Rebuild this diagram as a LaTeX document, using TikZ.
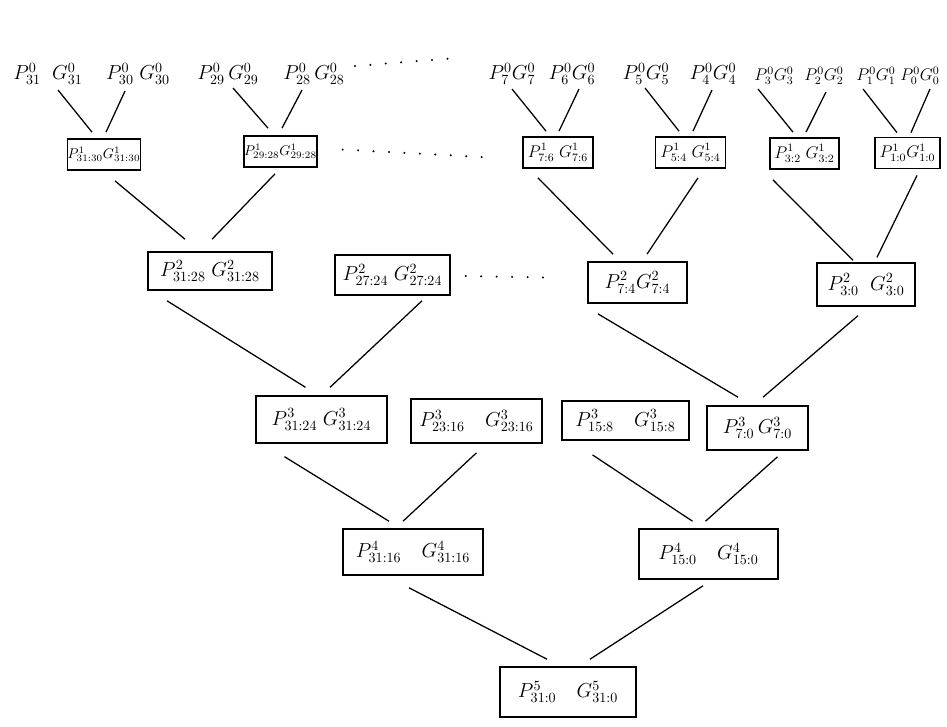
\documentclass[tikz,border=0pt]{standalone}
\usetikzlibrary{calc}
\begin{document}
\begin{tikzpicture}[
        x=0.025cm, y=-0.025cm,
        every node/.style={font=\Large},
        inp/.style={inner sep=0pt, anchor=south},
        box/.style={draw, rectangle, line width=1.1pt, inner sep=1pt},
        lvlone/.style={box, minimum width=1.75cm, minimum height=0.78cm, font=\large},
        wire/.style={line width=0.9pt},
        dots/.style={line width=1.6pt, line cap=round, dash pattern=on 0pt off 11pt}
    ]
        \useasboundingbox (0,0) rectangle (947,726);

        % Ingressi (livello 0)
        \node[inp] (i31) at (48, 85) {$P^0_{31}\;\;G^0_{31}$};
        \node[inp] (i30) at (138, 85) {$P^0_{30}\;G^0_{30}$};
        \node[inp] (i29) at (228, 85) {$P^0_{29}\,G^0_{29}$};
        \node[inp] (i28) at (314, 85) {$P^0_{28}\,G^0_{28}$};
        \node[inp] (i7) at (512, 85) {$P^0_{7}G^0_{7}$};
        \node[inp] (i6) at (572, 85) {$P^0_{6}G^0_{6}$};
        \node[inp] (i5) at (646, 85) {$P^0_{5}G^0_{5}$};
        \node[inp] (i4) at (713, 85) {$P^0_{4}G^0_{4}$};
        \node[inp, font=\large] (i3) at (774, 85) {$P^0_{3}G^0_{3}$};
        \node[inp, font=\large] (i2) at (824, 85) {$P^0_{2}G^0_{2}$};
        \node[inp, font=\large] (i1) at (876, 85) {$P^0_{1}G^0_{1}$};
        \node[inp, font=\large] (i0) at (920, 85) {$P^0_{0}G^0_{0}$};

        % Livello 1
        \node[lvlone, font=\normalsize, inner sep=0pt] (b31) at (104, 154.5) {$P^1_{31:30}G^1_{31:30}$};
        \node[lvlone, font=\normalsize, inner sep=0pt] (b29) at (280.5, 151.5) {$P^1_{29:28}G^1_{29:28}$};
        \node[lvlone] (b7) at (558, 152.5) {$P^1_{7:6}\;G^1_{7:6}$};
        \node[lvlone] (b5) at (690.5, 152.5) {$P^1_{5:4}\;G^1_{5:4}$};
        \node[lvlone, minimum width=1.72cm] (b3) at (804.5, 153.5) {$P^1_{3:2}\;G^1_{3:2}$};
        \node[lvlone, minimum width=1.62cm] (b1) at (907.5, 153) {$P^1_{1:0}G^1_{1:0}$};

        % Livello 2
        \node[box, minimum width=3.1cm, minimum height=0.95cm] (c31) at (210, 271) {$P^2_{31:28}\;G^2_{31:28}$};
        \node[box, minimum width=2.87cm, minimum height=1cm] (c27) at (392.5, 275) {$P^2_{27:24}\;G^2_{27:24}$};
        \node[box, minimum width=2.47cm, minimum height=1.03cm] (c7) at (637.5, 282.5) {$P^2_{7:4}G^2_{7:4}$};
        \node[box, minimum width=2.45cm, minimum height=1.07cm] (c3) at (866, 284.5) {$P^2_{3:0}\;\;G^2_{3:0}$};

        % Livello 3
        \node[box, minimum width=3.27cm, minimum height=1.17cm] (d31) at (321.5, 419.5) {$P^3_{31:24}\;G^3_{31:24}$};
        \node[box, minimum width=3.27cm, minimum height=1.1cm] (d23) at (476.5, 421) {$P^3_{23:16}\quad G^3_{23:16}$};
        \node[box, minimum width=3.17cm, minimum height=0.98cm] (d15) at (625.5, 420.5) {$P^3_{15:8}\quad G^3_{15:8}$};
        \node[box, minimum width=2.52cm, minimum height=1.1cm] (d7) at (757.5, 428) {$P^3_{7:0}\,G^3_{7:0}$};

        % Livello 4
        \node[box, minimum width=3.5cm, minimum height=1.15cm] (e31) at (413, 552) {$P^4_{31:16}\quad G^4_{31:16}$};
        \node[box, minimum width=3.47cm, minimum height=1.25cm] (e15) at (708.5, 554) {$P^4_{15:0}\quad G^4_{15:0}$};

        % Livello 5 (radice)
        \node[box, minimum width=3.4cm, minimum height=1.25cm] (f) at (568, 692) {$P^5_{31:0}\quad G^5_{31:0}$};

        % Archi 0 -> 1
        \draw[wire] ($(i31.south)+(10,5)$) -- ($(b31.north)+(-12,-6)$);
        \draw[wire] ($(i30.south)+(-13,6)$) -- ($(b31.north)+(2,-6)$);
        \draw[wire] ($(i29.south)+(5,3)$) -- ($(b29.north)+(-12.5,-7)$);
        \draw[wire] ($(i28.south)+(-12,5)$) -- ($(b29.north)+(1.5,-7)$);
        \draw[wire] ($(i7.south)+(0,4)$) -- ($(b7.north)+(-12,-5)$);
        \draw[wire] ($(i6.south)+(7,4)$) -- ($(b7.north)+(1,-5)$);
        \draw[wire] ($(i5.south)+(-1,3)$) -- ($(b5.north)+(-11.5,-5)$);
        \draw[wire] ($(i4.south)+(-1,5)$) -- ($(b5.north)+(2.5,-5)$);
        \draw[wire] ($(i3.south)+(-16,4)$) -- ($(b3.north)+(-11.5,-5)$);
        \draw[wire] ($(i2.south)+(2,7)$) -- ($(b3.north)+(1.5,-5)$);
        \draw[wire] ($(i1.south)+(-13,4)$) -- ($(b1.north)+(-10.5,-4)$);
        \draw[wire] ($(i0.south)+(10,4)$) -- ($(b1.north)+(3.5,-4)$);

        % Archi 1 -> 2
        \draw[wire] ($(b31.south)+(11,10)$) -- ($(c31.north)+(-25,-12)$);
        \draw[wire] ($(b29.south)+(-5.5,6)$) -- ($(c31.north)+(2,-12)$);
        \draw[wire] ($(b7.south)+(-20,9)$) -- ($(c7.north)+(-24.5,-7)$);
        \draw[wire] ($(b5.south)+(7.5,9)$) -- ($(c7.north)+(9.5,-7)$);
        \draw[wire] ($(b3.south)+(-31.5,10)$) -- ($(c3.north)+(-13,-2)$);
        \draw[wire] ($(b1.south)+(9.5,6)$) -- ($(c3.north)+(11,-5)$);

        % Archi 2 -> 3
        \draw[wire] ($(c31.south)+(-43,10)$) -- ($(d31.north)+(-16,-8)$);
        \draw[wire] ($(c27.south)+(29.5,5)$) -- ($(d31.north)+(8.5,-8)$);
        \draw[wire] ($(c7.south)+(-39.5,10)$) -- ($(d7.north)+(-19.5,-8)$);
        \draw[wire] ($(c3.south)+(-8,9)$) -- ($(d7.north)+(5.5,-8)$);

        % Archi 3 -> 4
        \draw[wire] ($(d31.south)+(-37,13)$) -- ($(e31.north)+(-24,-7)$);
        \draw[wire] ($(d23.south)+(0,9)$) -- ($(e31.north)+(-10,-7)$);
        \draw[wire] ($(d15.south)+(-33,14)$) -- ($(e15.north)+(-16,-7)$);
        \draw[wire] ($(d7.south)+(20,6)$) -- ($(e15.north)+(-3,-7)$);

        % Archi 4 -> 5
        \draw[wire] ($(e31.south)+(-4,12)$) -- ($(f.north)+(-21,-7)$);
        \draw[wire] ($(e15.south)+(-5.5,6)$) -- ($(f.north)+(22,-7)$);

        % Puntini (bit omessi)
        \draw[dots] ($(i28.east)+(10,-8)$) -- ($(i7.west)+(-32,-16)$);
        \draw[dots] ($(b29.east)+(25,-2)$) -- ($(b7.west)+(-32,5)$);
        \draw[dots] ($(c27.east)+(15,1)$) -- ($(c7.west)+(-40,-5)$);

    \end{tikzpicture}
\end{document}
